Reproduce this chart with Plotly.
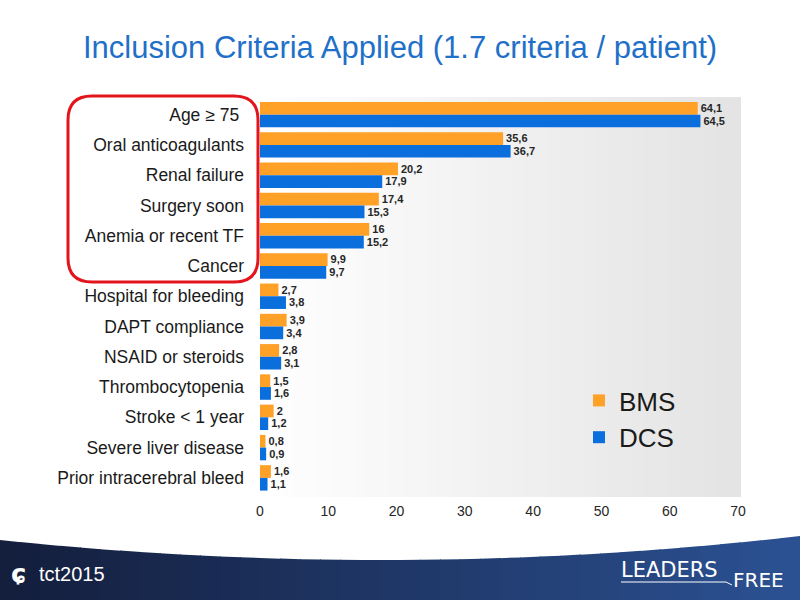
import plotly.graph_objects as go

categories = ["Age ≥ 75 ", "Oral anticoagulants", "Renal failure", "Surgery soon",
              "Anemia or recent TF", "Cancer", "Hospital for bleeding", "DAPT compliance",
              "NSAID or steroids", "Thrombocytopenia", "Stroke < 1 year",
              "Severe liver disease", "Prior intracerebral bleed"]
bms = [64.1, 35.6, 20.2, 17.4, 16, 9.9, 2.7, 3.9, 2.8, 1.5, 2, 0.8, 1.6]
dcs = [64.5, 36.7, 17.9, 15.3, 15.2, 9.7, 3.8, 3.4, 3.1, 1.6, 1.2, 0.9, 1.1]
x_ticks = [0, 10, 20, 30, 40, 50, 60, 70]

W, H = 800, 600
def px(x): return x / W
def py(y): return 1 - y / H

FONT = "Liberation Sans, Arial, sans-serif"
LBL = dict(size=13, color="#262626", family=FONT, weight="bold")

fig = go.Figure()
fig.add_trace(go.Bar(y=categories, x=bms, name="BMS", orientation="h",
                     marker=dict(color="#FFA126", line=dict(width=0)),
                     text=[str(v).replace(".", ",") for v in bms],
                     textposition="outside", cliponaxis=False, textfont=LBL))
fig.add_trace(go.Bar(y=categories, x=dcs, name="DCS", orientation="h",
                     marker=dict(color="#0A6EDC", line=dict(width=0)),
                     text=[str(v).replace(".", ",") for v in dcs],
                     textposition="outside", cliponaxis=False, textfont=LBL))

shapes = []
# plot background gradient
x0p, x1p = 258, 740
y0p, y1p = 97, 497
n = 40
for i in range(n):
    t = i / (n - 1)
    c = int(255 - t * (255 - 228))
    shapes.append(dict(type="rect", xref="paper", yref="paper",
                       x0=px(x0p + (x1p - x0p) * i / n), x1=px(x0p + (x1p - x0p) * (i + 1) / n + 1),
                       y0=py(y1p), y1=py(y0p), fillcolor=f"rgb({c},{c},{c})",
                       line=dict(width=0), layer="below"))

# bottom banner with curved top and horizontal gradient
def curve(x):
    s = x / 800
    return (1 - s) ** 2 * 540 + 2 * (1 - s) * s * 582 + s ** 2 * 536
strips = 40
cL = (20, 30, 60)
cR = (44, 82, 148)
for i in range(strips):
    xa = 800 * i / strips
    xb = min(800 * (i + 1) / strips + 1, 800)
    t = (i + 0.5) / strips
    col = tuple(int(cL[k] + (cR[k] - cL[k]) * t) for k in range(3))
    path = (f"M {px(xa)},{py(curve(xa))} L {px(xb)},{py(curve(xb))} "
            f"L {px(xb)},{py(600)} L {px(xa)},{py(600)} Z")
    shapes.append(dict(type="path", xref="paper", yref="paper", path=path,
                       fillcolor=f"rgb{col}", line=dict(width=0), layer="above"))

# red rounded rectangle
rx0, ry0, rx1, ry1, r = 68, 96, 258, 282, 24
path = (f"M {px(rx0 + r)},{py(ry0)} L {px(rx1 - r)},{py(ry0)} "
        f"Q {px(rx1)},{py(ry0)} {px(rx1)},{py(ry0 + r)} "
        f"L {px(rx1)},{py(ry1 - r)} Q {px(rx1)},{py(ry1)} {px(rx1 - r)},{py(ry1)} "
        f"L {px(rx0 + r)},{py(ry1)} Q {px(rx0)},{py(ry1)} {px(rx0)},{py(ry1 - r)} "
        f"L {px(rx0)},{py(ry0 + r)} Q {px(rx0)},{py(ry0)} {px(rx0 + r)},{py(ry0)} Z")
shapes.append(dict(type="path", xref="paper", yref="paper", path=path,
                   line=dict(color="#E3141C", width=3), fillcolor="rgba(0,0,0,0)", layer="above"))
# underline for LEADERS
shapes.append(dict(type="path", xref="paper", yref="paper",
                   path=f"M {px(621)},{py(582)} L {px(726)},{py(582)} L {px(732)},{py(585)}",
                   line=dict(color="white", width=1), layer="above"))

annotations = [
    dict(text="Inclusion Criteria Applied (1.7 criteria / patient)", x=px(400), y=py(47),
         xref="paper", yref="paper", showarrow=False, xanchor="center", yanchor="middle",
         font=dict(size=31, color="#1F70C8", family=FONT)),
    dict(text="<b>ɕ</b>", x=px(9), y=py(574), xref="paper", yref="paper", showarrow=False,
         xanchor="left", yanchor="middle",
         font=dict(size=26, color="white", family="DejaVu Sans, sans-serif")),
    dict(text="tct2015", x=px(37), y=py(574), xref="paper", yref="paper", showarrow=False,
         xanchor="left", yanchor="middle",
         font=dict(size=20, color="white", family=FONT)),
    dict(text="LEADERS", x=px(619), y=py(570), xref="paper", yref="paper", showarrow=False,
         xanchor="left", yanchor="middle", font=dict(size=21, color="white", family="DejaVu Sans, sans-serif")),
    dict(text="FREE", x=px(731), y=py(580), xref="paper", yref="paper", showarrow=False,
         xanchor="left", yanchor="middle", font=dict(size=20, color="white", family="DejaVu Sans, sans-serif")),
]

fig.update_layout(
    width=W, height=H, autosize=False,
    margin=dict(l=0, r=0, t=0, b=0, pad=0),
    paper_bgcolor="white", plot_bgcolor="rgba(0,0,0,0)",
    barmode="group", bargap=0.16, bargroupgap=0,
    separators=",.",
    font=dict(family=FONT, color="#262626"),
    xaxis=dict(domain=[px(260), px(738)], range=[0, 70], tickvals=x_ticks,
               showgrid=False, zeroline=False, showline=False, ticks="", automargin=False,
               tickfont=dict(size=14, color="#262626"), ticklabelstandoff=8),
    yaxis=dict(domain=[py(493), py(99.5)], autorange="reversed", showgrid=False,
               showline=False, ticks="", automargin=False,
               tickfont=dict(size=17.5, color="#1a1a1a"),
               ticklabelstandoff=15),
    legend=dict(x=px(579), y=py(377), xanchor="left", yanchor="top",
                font=dict(size=26, color="#1a1a1a", family=FONT),
                bgcolor="rgba(0,0,0,0)", tracegroupgap=0),
    showlegend=True,
    shapes=shapes,
    annotations=annotations,
)

fig.write_html("out.html", config={"responsive": False, "displayModeBar": False},
               post_script="document.body.style.margin='0';")
